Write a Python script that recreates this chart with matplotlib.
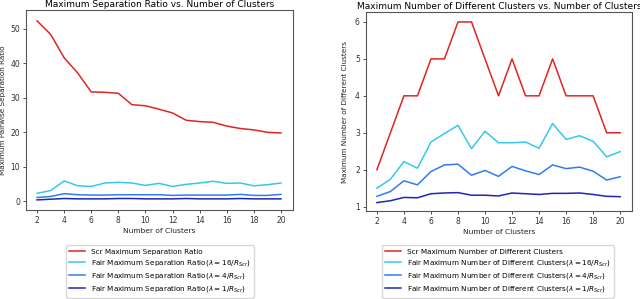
import matplotlib
matplotlib.use("Agg")
import matplotlib.pyplot as plt

clusters = list(range(2, 21))

# left panel: maximum pairwise separation ratio
sep_scr = [52.3, 48.4, 41.6, 37.2, 31.7, 31.6, 31.3, 28.0, 27.7, 26.7, 25.6, 23.5, 23.1, 22.9, 21.8, 21.1, 20.7, 20.0, 19.8]
sep_16 = [2.3, 3.1, 5.9, 4.5, 4.3, 5.3, 5.5, 5.3, 4.6, 5.2, 4.3, 4.9, 5.3, 5.8, 5.2, 5.3, 4.5, 4.8, 5.3]
sep_4 = [1.1, 1.4, 2.2, 1.9, 1.8, 1.8, 1.9, 1.9, 1.9, 1.9, 1.7, 1.8, 1.8, 1.8, 1.8, 2.0, 1.7, 1.7, 2.0]
sep_1 = [0.4, 0.6, 0.8, 0.7, 0.7, 0.7, 0.8, 0.8, 0.7, 0.7, 0.7, 0.8, 0.7, 0.7, 0.7, 0.8, 0.7, 0.7, 0.7]

# right panel: maximum number of different clusters
diff_scr = [2, 3, 4, 4, 5, 5, 6, 6, 5, 4, 5, 4, 4, 5, 4, 4, 4, 3, 3]
diff_16 = [1.50, 1.74, 2.22, 2.04, 2.75, 2.98, 3.20, 2.57, 3.04, 2.73, 2.73, 2.75, 2.58, 3.25, 2.82, 2.92, 2.77, 2.35, 2.49]
diff_4 = [1.28, 1.41, 1.70, 1.59, 1.95, 2.13, 2.15, 1.85, 1.98, 1.82, 2.09, 1.97, 1.87, 2.13, 2.03, 2.07, 1.96, 1.72, 1.81]
diff_1 = [1.11, 1.16, 1.25, 1.24, 1.35, 1.37, 1.38, 1.31, 1.31, 1.29, 1.37, 1.35, 1.33, 1.36, 1.36, 1.37, 1.33, 1.28, 1.27]

c_red = '#e02424'
c_cyan = '#35c8ec'
c_mid = '#2f7cf0'
c_dark = '#2424b4'

plt.rcParams['font.family'] = ['DejaVu Sans']

fig = plt.figure(figsize=(6.4, 2.99), dpi=100)
ax = fig.add_axes([0.041, 0.298, 0.417, 0.669])
ax2 = fig.add_axes([0.572, 0.294, 0.416, 0.666])

ax.plot(clusters, sep_scr, color=c_red, lw=1.1, label='Scr Maximum Separation Ratio')
ax.plot(clusters, sep_16, color=c_cyan, lw=1.1, label=r'Fair Maximum Separation Ratio($\lambda = 16/R_{Scr}$)')
ax.plot(clusters, sep_4, color=c_mid, lw=1.1, label=r'Fair Maximum Separation Ratio($\lambda = 4/R_{Scr}$)')
ax.plot(clusters, sep_1, color=c_dark, lw=1.1, label=r'Fair Maximum Separation Ratio($\lambda = 1/R_{Scr}$)')

ax2.plot(clusters, diff_scr, color=c_red, lw=1.1, label='Scr Maximum Number of Different Clusters')
ax2.plot(clusters, diff_16, color=c_cyan, lw=1.1, label=r'Fair Maximum Number of Different Clusters($\lambda = 16/R_{Scr}$)')
ax2.plot(clusters, diff_4, color=c_mid, lw=1.1, label=r'Fair Maximum Number of Different Clusters($\lambda = 4/R_{Scr}$)')
ax2.plot(clusters, diff_1, color=c_dark, lw=1.1, label=r'Fair Maximum Number of Different Clusters($\lambda = 1/R_{Scr}$)')

for a in (ax, ax2):
    a.set_xticks(range(2, 21, 2))
    a.tick_params(labelsize=5.5, length=2.5, width=0.6, colors='#333333', pad=2)
    for s in a.spines.values():
        s.set_color('#555555')
        s.set_linewidth(0.8)
    a.set_xlabel('Number of Clusters', fontsize=5.4, color='#222222', labelpad=2)

ax.set_ylim(-2.5, 55.5)
ax.set_yticks([0, 10, 20, 30, 40, 50])
ax.set_xlim(1.2, 20.9)
ax.set_ylabel('Maximum Pairwise Separation Ratio', fontsize=5.2, color='#222222', labelpad=3)
ax.set_title('Maximum Separation Ratio vs. Number of Clusters', fontsize=6.5, pad=2)

ax2.set_ylim(0.88, 6.27)
ax2.set_yticks([1, 2, 3, 4, 5, 6])
ax2.set_xlim(1.2, 20.9)
ax2.set_ylabel('Maximum Number of Different Clusters', fontsize=5.2, color='#222222', labelpad=5)
ax2.set_title('Maximum Number of Different Clusters vs. Number of Clusters', fontsize=6.5, pad=2)

ax.legend(loc='upper center', bbox_to_anchor=(0.25, 0.192), bbox_transform=fig.transFigure,
          fontsize=5.2, frameon=True, borderpad=0.45, labelspacing=0.45, handlelength=2.2)
ax2.legend(loc='upper center', bbox_to_anchor=(0.778, 0.192), bbox_transform=fig.transFigure,
           fontsize=5.2, frameon=True, borderpad=0.45, labelspacing=0.45, handlelength=2.2)

fig.savefig('out.png', dpi=100)
